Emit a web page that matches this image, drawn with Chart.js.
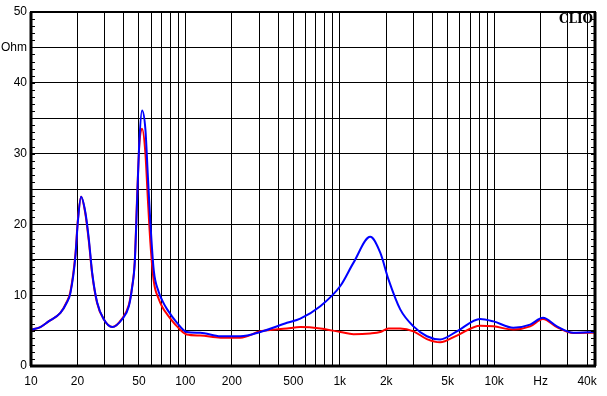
<!DOCTYPE html>
<html lang="en">
<head>
    <meta charset="UTF-8">
    <title>Impedance</title>
    <script src="https://cdn.jsdelivr.net/npm/chart.js"></script>
    <style>
        html, body { margin: 0; padding: 0; background: #fff; overflow: hidden; }
        canvas { display: block; }
    </style>
</head>
<body>
    <canvas id="chart" width="607" height="396"></canvas>

    <script>
        // frequency points (Hz)
        var freqs = [10, 11.5, 13, 15.5, 17, 18, 19.4, 20.1, 21.1, 22.5, 23.7, 24.9, 26.8, 29.6, 33.6,
            38.9, 43, 45.2, 47, 48.7, 50.4, 52.4, 55.1, 57, 59.3, 62.4, 67.1, 71, 76.2, 88.3, 102,
            125, 169, 227, 306, 455, 555, 748, 1008, 1228, 1575, 1829, 2070, 2464, 3004, 3667,
            4470, 5737, 8115, 9900, 13300, 17100, 20700, 25500, 32600, 45000];

        // impedance (Ohm)
        var blueZ = [5.1, 5.5, 6.3, 7.5, 8.9, 10.3, 15.5, 20.3, 23.9, 21.7, 17.9, 13.2, 9.0, 6.6, 5.5,
            6.6, 8.4, 11.1, 14.6, 23.5, 32, 36.1, 33.4, 27.3, 20.3, 13.5, 10.5, 9.2, 8.0, 6.1, 4.8,
            4.7, 4.2, 4.2, 4.8, 6.1, 6.7, 8.45, 11.3, 14.6, 18.25, 16.0, 12.2, 8.0, 5.6, 4.2,
            3.75, 4.9, 6.65, 6.3, 5.4, 5.85, 6.8, 5.6, 4.7, 4.8];
        var redZ = [5.1, 5.5, 6.3, 7.5, 9.0, 10.5, 15.8, 20.5, 23.9, 21.5, 17.6, 13.0, 8.9, 6.6, 5.5,
            6.7, 8.6, 11.2, 14.8, 24, 31.5, 33.5, 30, 24, 17.5, 12.0, 9.5, 8.3, 7.3, 5.6, 4.45,
            4.3, 4.0, 4.0, 4.9, 5.3, 5.5, 5.3, 4.8, 4.5, 4.6, 4.8, 5.3, 5.3, 4.9, 3.8,
            3.35, 4.3, 5.7, 5.6, 5.15, 5.6, 6.65, 5.5, 4.65, 4.7];

        // grid / tick values
        var xGrid = [10, 20, 30, 40, 50, 60, 70, 80, 90, 100, 200, 300, 400, 500, 600, 700, 800, 900,
            1000, 2000, 3000, 4000, 5000, 6000, 7000, 8000, 9000, 10000, 20000, 30000, 40000];
        var xLabels = { 10: '10', 20: '20', 50: '50', 100: '100', 200: '200', 500: '500', 1000: '1k',
            2000: '2k', 5000: '5k', 10000: '10k', 20000: 'Hz', 40000: '40k' };
        var yLabels = { 0: '0', 10: '10', 20: '20', 30: '30', 40: '40', 45: 'Ohm', 50: '50' };

        function pts(vals) {
            return freqs.map(function (f, i) { return { x: f, y: vals[i] }; });
        }

        // frame, minor ticks and CLIO mark
        var framePlugin = {
            id: 'frame',
            afterDraw: function (chart) {
                var ctx = chart.ctx, a = chart.chartArea, ys = chart.scales.y;
                ctx.save();
                ctx.strokeStyle = '#000';
                ctx.lineWidth = 1;
                for (var v = 1; v < 50; v++) {
                    var py = Math.round(ys.getPixelForValue(v)) + 0.5;
                    ctx.beginPath();
                    ctx.moveTo(a.left, py); ctx.lineTo(a.left + 4, py);
                    ctx.moveTo(a.right, py); ctx.lineTo(a.right - 4, py);
                    ctx.stroke();
                }
                ctx.lineWidth = 3;
                ctx.beginPath();
                ctx.moveTo(a.left, a.top); ctx.lineTo(a.left, a.bottom);
                ctx.moveTo(a.left - 1, a.bottom); ctx.lineTo(a.right + 1, a.bottom);
                ctx.moveTo(a.right, a.bottom); ctx.lineTo(a.right, a.top);
                ctx.stroke();
                ctx.lineWidth = 2;
                ctx.beginPath();
                ctx.moveTo(a.left - 1, a.top); ctx.lineTo(a.right + 1, a.top);
                ctx.stroke();
                ctx.fillStyle = '#000';
                ctx.font = 'bold 12px "DejaVu Serif"';
                ctx.textAlign = 'right';
                ctx.textBaseline = 'top';
                ctx.fillText('CLIO', a.right - 2, a.top + 2);
                ctx.restore();
            }
        };

        new Chart(document.getElementById('chart'), {
            type: 'line',
            data: {
                datasets: [{
                    data: pts(blueZ),
                    borderColor: '#0000ff',
                    borderWidth: 2,
                    pointRadius: 0,
                    cubicInterpolationMode: 'monotone'
                }, {
                    data: pts(redZ),
                    borderColor: '#ff0000',
                    borderWidth: 2,
                    pointRadius: 0,
                    cubicInterpolationMode: 'monotone'
                }]
            },
            options: {
                responsive: false,
                animation: false,
                devicePixelRatio: 1,
                layout: { padding: { left: 0, right: 12, top: 12, bottom: 0 } },
                plugins: { legend: { display: false }, tooltip: { enabled: false } },
                scales: {
                    x: {
                        type: 'logarithmic',
                        min: 10,
                        max: 45000,
                        afterBuildTicks: function (s) {
                            s.ticks = xGrid.map(function (v) { return { value: v }; });
                        },
                        afterFit: function (s) { s.height = 30; },
                        grid: { color: '#000', lineWidth: 1, drawTicks: false },
                        border: { display: false },
                        ticks: {
                            autoSkip: false,
                            maxRotation: 0,
                            padding: 8,
                            color: '#000',
                            font: { family: '"Liberation Sans", Arial', size: 12 },
                            callback: function (v) { return xLabels[v] || ''; }
                        }
                    },
                    y: {
                        min: 0,
                        max: 50,
                        afterBuildTicks: function (s) {
                            var t = [];
                            for (var v = 0; v <= 50; v += 5) t.push({ value: v });
                            s.ticks = t;
                        },
                        afterFit: function (s) { s.width = 31; },
                        grid: { color: '#000', lineWidth: 1, drawTicks: false },
                        border: { display: false },
                        ticks: {
                            autoSkip: false,
                            padding: 4,
                            color: '#000',
                            font: { family: '"Liberation Sans", Arial', size: 12 },
                            callback: function (v) { return yLabels[v] || ''; }
                        }
                    }
                }
            },
            plugins: [framePlugin]
        });
    </script>
</body>
</html>
